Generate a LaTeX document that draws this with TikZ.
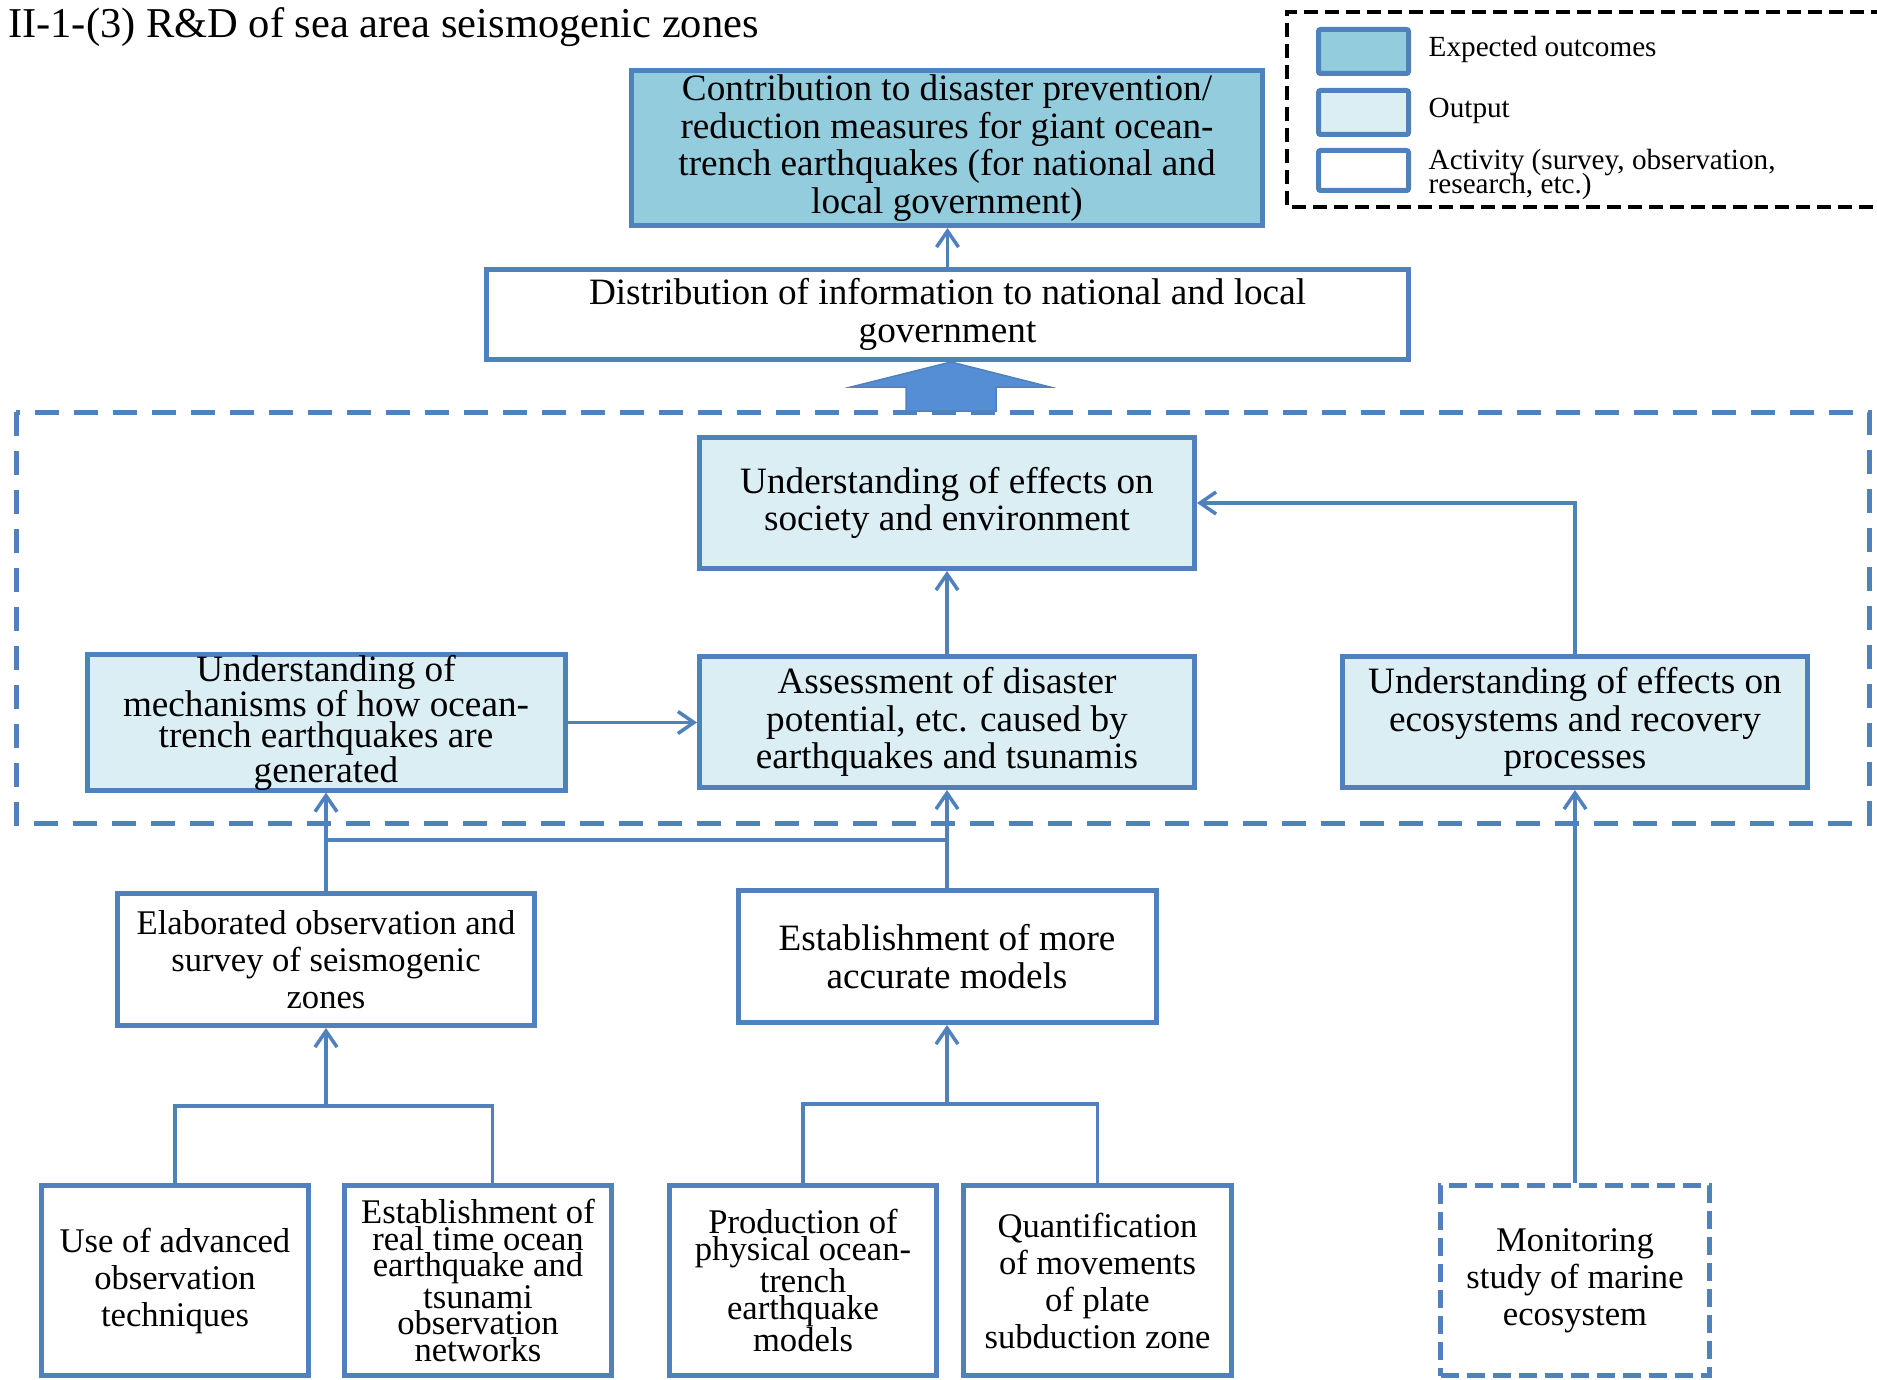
\documentclass[tikz,border=0pt]{standalone}
\usepackage{fontspec}
\setmainfont{Liberation Serif}
\usetikzlibrary{arrows.meta}
\definecolor{bord}{RGB}{79,129,189}
\definecolor{outc}{RGB}{147,205,221}
\definecolor{outp}{RGB}{219,238,244}
\definecolor{bigarr}{RGB}{85,142,213}
\begin{document}
\begin{tikzpicture}[x=1pt,y=-1pt,
  box/.style={draw=bord, line width=5pt, align=center, inner sep=0pt, text=black},
  act/.style={box, fill=white},
  outbox/.style={box, fill=outp},
  expbox/.style={box, fill=outc},
  fbig/.style={font=\fontsize{37.2}{37.5}\selectfont},
  fsmall/.style={font=\fontsize{34.6}{37}\selectfont},
  ftight/.style={font=\fontsize{34.6}{26.5}\selectfont},
  flegend/.style={font=\fontsize{29.2}{24}\selectfont},
  conn/.style={draw=bord, line width=3.5pt},
  arr/.style={conn, -{Straight Barb[length=16pt,width=22pt]}},
  legtext/.style={anchor=base west, inner sep=0pt, flegend},
]
\useasboundingbox (0,0) rectangle (1877,1380);
\fill[white] (0,0) rectangle (1877,1380);

% title
\node[anchor=base west, inner sep=0pt, font=\fontsize{42.5}{45}\selectfont] (title) at (8,38) {II-1-(3) R\&D of sea area seismogenic zones};

% legend
\draw[black, line width=4.5pt, dash pattern=on 14pt off 7pt] (1885,12) -- (1287,12) -- (1287,207) -- (1885,207);
\node[expbox, minimum width=90pt, minimum height=44pt, rounded corners=2pt] (L1) at (1363.5,51.5) {};
\node[outbox, minimum width=90pt, minimum height=44pt, rounded corners=2pt] (L2) at (1363.5,112.5) {};
\node[act, minimum width=90pt, minimum height=40pt, rounded corners=2pt] (L3) at (1363.5,170.5) {};
\node[legtext] (T1) at (1428.5,56.7) {Expected outcomes};
\node[legtext] (T2) at (1428.5,117.7) {Output};
\node[legtext] (T3a) at (1428.5,170) {Activity (survey, observation,};
\node[legtext] (T3b) at (1428.5,194) {research, etc.)};

% top boxes
\node[expbox, fbig, minimum width=631pt, minimum height=155pt] (O) at (947,148) {Contribution to disaster prevention/\\reduction measures for giant ocean-\\trench earthquakes (for national and\\local government)};
\node[act, fbig, minimum width=922pt, minimum height=90pt] (D) at (947.5,314.5) {Distribution of information to national and local\\government};
\draw[arr] (D.north) -- (D.north |- O.south);

% dashed region
\draw[bord, line width=5pt, dash pattern=on 24pt off 15pt] (16,412) rectangle (1869,823);

% big arrow
\filldraw[fill=bigarr, draw=bord, line width=1.5pt] (951,362) -- (1050,387) -- (996,387) -- (996,411) -- (906,411) -- (906,387) -- (851,387) -- cycle;

% output boxes
\node[outbox, fbig, minimum width=495pt, minimum height=131pt] (S) at (947,503) {Understanding of effects on\\society and environment};
\node[outbox, fbig, minimum width=495pt, minimum height=131pt] (A) at (947,722) {Assessment of disaster\\potential, etc. caused by\\earthquakes and tsunamis};
\node[outbox, font=\fontsize{37.2}{31}\selectfont, minimum width=478pt, minimum height=132pt] (M) at (326,722.5) {Understanding of\\mechanisms of how ocean-\\trench earthquakes are\\generated};
\node[outbox, fbig, minimum width=465pt, minimum height=131pt] (E) at (1575,722) {Understanding of effects on\\ecosystems and recovery\\processes};

\draw[arr] (A.north) -- (S.south);
\draw[arr] (E.north) |- (S.east);
\draw[arr] (M.east) -- (M.east -| A.west);

% middle activities
\node[act, fsmall, minimum width=417pt, minimum height=132pt] (EL) at (326,959.5) {Elaborated observation and\\survey of seismogenic\\zones};
\node[act, fbig, minimum width=418pt, minimum height=132pt] (MO) at (947,956.5) {Establishment of more\\accurate models};

\coordinate (busL) at (326,840);
\coordinate (busR) at (947,840);
\draw[arr] (EL.north) -- (M.south);
\draw[arr] (MO.north) -- (A.south);
\draw[conn, line width=4.5pt] (busL) -- (busR);

% bottom activities
\node[act, fsmall, minimum width=267pt, minimum height=190pt] (B1) at (175,1280.5) {Use of advanced\\observation\\techniques};
\node[act, ftight, minimum width=267pt, minimum height=190pt] (B2) at (478,1280.5) {Establishment of\\real time ocean\\earthquake and\\tsunami\\observation\\networks};
\node[act, ftight, minimum width=267pt, minimum height=190pt] (B3) at (803,1280.5) {Production of\\physical ocean-\\trench\\earthquake\\models};
\node[act, fsmall, minimum width=268pt, minimum height=190pt] (B4) at (1097.5,1280.5) {Quantification\\of movements\\of plate\\subduction zone};
\node[act, fsmall, dash pattern=on 18pt off 8pt, minimum width=269pt, minimum height=190pt] (B5) at (1575,1280.5) {Monitoring\\study of marine\\ecosystem};

\coordinate (f1) at (326,1106);
\coordinate (f2) at (947,1104);
\coordinate (b2in) at (492.5,1183);
\draw[arr] (f1) -- (EL.south);
\draw[conn] (B1.north) |- (f1) -| (b2in);
\draw[arr] (f2) -- (MO.south);
\draw[conn] (B3.north) |- (f2) -| (B4.north);
\draw[arr] (B5.north) -- (E.south);
\end{tikzpicture}
\end{document}
